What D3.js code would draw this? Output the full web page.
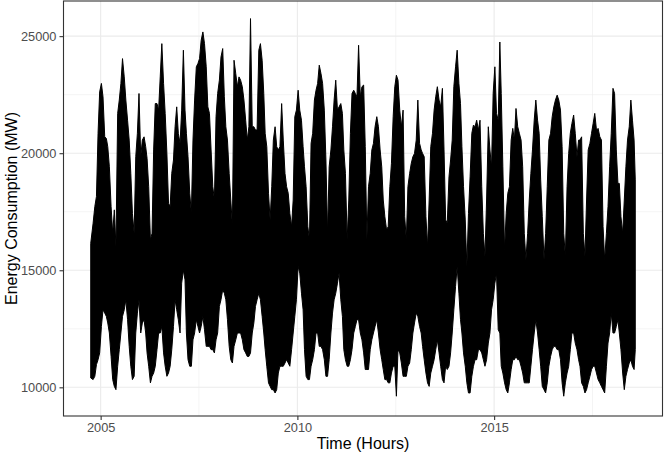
<!DOCTYPE html>
<html>
<meta charset="utf-8">
<head>
<script src="https://cdn.jsdelivr.net/npm/d3@7"></script>
<style>
body { margin: 0; background: #fff; }
text { font-family: "Liberation Sans", Arial, Helvetica, sans-serif; }
</style>
</head>
<body>
<script>
// hourly load, summarised as highest / lowest reading of each half month (MW)
// first value is the first half of Oct 2004, last is the first days of Aug 2018
var firstHour = new Date(2004, 9, 1);
var lastHour = new Date(2018, 7, 3);

var halfMonthHigh = [
  16150, 17010, 17720, 18150, 20850, 22620,   // 2004 Oct-Dec
  22980, 22410, 20700, 20630, 20280, 19420, 17720, 16580, 17580, 16010, 21700, 22270,
  22980, 24040, 23260, 22270, 21410, 20560, 19140, 17430, 16580, 19850, 20850, 22550,   // 2005
  19850, 20560, 20700, 20280, 19780, 18570, 16300, 16580, 20140, 22120, 22120, 21840,
  23260, 24680, 22980, 21700, 19990, 17860, 17720, 19140, 19710, 21130, 21980, 20850,   // 2006
  20420, 21840, 24400, 21840, 20850, 19850, 18290, 17430, 20560, 22270, 23690, 23830,
  24040, 24820, 25180, 24680, 23690, 21980, 21700, 20140, 18570, 18000, 21560, 22550,   // 2007
  23120, 24110, 24470, 22410, 21130, 20560, 19140, 18000, 16870, 23970, 23400, 22840,
  23260, 23120, 22840, 22270, 21410, 20560, 21130, 25750, 21130, 21130, 20990, 20990,   // 2008
  24400, 24680, 23970, 22550, 20850, 20280, 18290, 17150, 18570, 20560, 21130, 20280,
  20140, 20280, 22120, 20560, 19140, 18570, 18290, 17430, 16870, 18000, 21560, 21840,   // 2009
  22690, 21840, 21410, 20280, 19420, 18570, 16870, 16300, 20420, 20850, 22270, 22690,
  22980, 23760, 23400, 22980, 21840, 19710, 16580, 19420, 20140, 21130, 22270, 23120,   // 2010
  21840, 21980, 22120, 21700, 20140, 19140, 16300, 18000, 20850, 22550, 22690, 22550,
  22410, 24610, 22410, 22840, 22910, 20280, 16300, 18570, 19140, 20140, 20420, 21130,   // 2011
  21560, 21130, 20140, 19420, 18000, 17290, 16720, 16870, 18570, 19570, 21560, 22840,
  23330, 23120, 21840, 21130, 21840, 17290, 16300, 18570, 19140, 19570, 19850, 19990,   // 2012
  20560, 22270, 20420, 20140, 19990, 19850, 17290, 16010, 18000, 20280, 20850, 21840,
  22410, 22840, 22270, 21980, 22770, 20140, 17150, 17010, 18990, 19710, 20560, 22840,   // 2013
  23690, 24400, 22980, 22120, 20280, 18570, 17150, 15160, 17430, 18990, 20850, 21200,
  21130, 21410, 20990, 21410, 18570, 16580, 15590, 18000, 21130, 20140, 19420, 22550,   // 2014
  23690, 21700, 21410, 24750, 22550, 19420, 15870, 17430, 18290, 18570, 20560, 21060,
  20560, 21910, 21130, 20850, 20560, 19420, 16580, 15450, 16580, 18000, 19140, 20140,   // 2015
  21410, 22270, 21410, 20850, 18860, 17290, 15450, 16580, 18570, 20560, 20850, 21560,
  21980, 22270, 22480, 22270, 21840, 20280, 16580, 15590, 18570, 19990, 20850, 21270,   // 2016
  21630, 20850, 19850, 20560, 20560, 20700, 16580, 15590, 18000, 20140, 20420, 20850,
  21270, 21700, 20990, 21060, 20700, 20560, 16870, 15450, 16580, 17720, 19420, 20850,   // 2017
  22770, 22550, 20140, 18710, 18710, 17290, 16580, 18000, 19420, 20560, 21130, 22270,
  21410, 20560, 18860                                                                   // 2018
];

var halfMonthLow = [
  10400, 10330, 10470, 10970, 11180, 11470,
  12600, 13310, 13170, 13030, 12750, 12320, 11320, 10330, 10040, 9900, 10900, 11610,
  12320, 13030, 13310, 13740, 12890, 11750, 10900, 10330, 10470, 12320, 13170, 13740,
  12320, 12750, 12890, 12320, 11470, 10900, 10190, 10470, 10610, 10900, 11610, 12320,
  12320, 12600, 11470, 10900, 10470, 10610, 10900, 11610, 12600, 13740, 13310, 12890,
  12320, 14450, 15000, 14590, 12320, 11180, 10900, 10900, 12030, 12320, 12890, 12600,
  12320, 12600, 13030, 12460, 11750, 11750, 11750, 11610, 11610, 11470, 12030, 12320,
  13460, 13740, 14170, 14020, 13740, 12890, 11750, 11180, 11040, 11750, 12030, 12320,
  12320, 12320, 12030, 11610, 11470, 11320, 11320, 11470, 12320, 12750, 13460, 13740,
  14020, 13740, 13030, 12320, 11610, 10900, 10190, 10040, 9900, 9900, 9760, 9900,
  10610, 10900, 10900, 10900, 11040, 11180, 11040, 10900, 11610, 12320, 13030, 13740,
  15160, 14880, 14020, 13310, 11610, 10470, 10330, 10330, 10900, 11180, 11610, 12320,
  12320, 11750, 11750, 11610, 11180, 10470, 10470, 11180, 12320, 13170, 13740, 14020,
  14450, 14880, 13740, 13030, 11610, 11180, 10900, 10900, 11180, 11610, 12320, 12600,
  12890, 12890, 12320, 12030, 11470, 10760, 10760, 10760, 11610, 12030, 12320, 12600,
  12890, 12320, 11610, 11180, 10760, 10330, 10330, 10190, 10190, 10610, 10900, 10900,
  9620, 11610, 11470, 11040, 10470, 10470, 10470, 10900, 11040, 11610, 12320, 12750,
  13170, 13030, 12600, 12320, 11750, 11180, 10610, 10190, 10040, 10610, 10900, 11180,
  11610, 12030, 11470, 10900, 10330, 10190, 10900, 10760, 10900, 11470, 12320, 13310,
  14310, 15160, 14020, 12890, 12320, 11470, 10900, 10190, 9760, 9760, 10470, 10900,
  11180, 11180, 11610, 11610, 11470, 11180, 10900, 11180, 11890, 12320, 13310, 13740,
  14450, 14880, 12460, 12320, 10900, 10610, 10190, 9900, 9760, 10190, 10760, 11180,
  11180, 11320, 11180, 11180, 10900, 10610, 10190, 10190, 10190, 10190, 10900, 11610,
  12320, 12890, 12320, 11610, 10900, 10040, 9900, 9760, 10190, 10900, 11320, 11610,
  11750, 11750, 11610, 11610, 11180, 10190, 9620, 10190, 10610, 10900, 11610, 12320,
  12320, 11890, 11610, 11180, 10900, 10190, 10040, 9760, 9900, 10190, 10470, 10760,
  10900, 10900, 10610, 10330, 10190, 10040, 9900, 9760, 10900, 11890, 12320, 13170,
  12320, 12320, 12600, 12890, 12320, 11610, 10610, 9900, 10470, 10760, 11040, 11180,
  10900, 10760, 11610
];

var yTicks = [10000, 15000, 20000, 25000];
var yMinor = [12500, 17500, 22500];
var xTickYears = [2005, 2010, 2015];
var xMinorYears = [2007, 2012, 2017];

var W = 664, H = 453;
var panel = {left: 63.5, right: 662.5, top: 1, bottom: 416};

var svg = d3.select("body").append("svg")
  .attr("width", W)
  .attr("height", H);

// ggplot style 5% expansion on both axes
var span = lastHour - firstHour;
var x = d3.scaleTime()
  .domain([new Date(+firstHour - span * 0.05), new Date(+lastHour + span * 0.05)])
  .range([panel.left, panel.right]);

var y = d3.scaleLinear()
  .domain([8775, 26501])
  .range([panel.bottom, panel.top]);

var points = halfMonthHigh.map(function(v, i) {
  var d = d3.timeDay.offset(d3.timeMonth.offset(firstHour, Math.floor(i / 2)), i % 2 ? 22 : 7);
  if (i == 0) d = firstHour;
  if (d > lastHour) d = lastHour;
  return {date: d, hi: v, lo: halfMonthLow[i]};
});

// grid
var grid = svg.append("g");
function hline(sel, w) {
  sel.attr("x1", panel.left).attr("x2", panel.right)
    .attr("y1", function(d) { return y(d); }).attr("y2", function(d) { return y(d); })
    .attr("stroke", "#ebebeb").attr("stroke-width", w);
}
function vline(sel, w) {
  sel.attr("y1", panel.top).attr("y2", panel.bottom)
    .attr("x1", function(d) { return x(d); }).attr("x2", function(d) { return x(d); })
    .attr("stroke", "#ebebeb").attr("stroke-width", w);
}
grid.selectAll(".ym").data(yMinor).enter().append("line").call(hline, 0.55);
grid.selectAll(".xm").data(xMinorYears.map(function(d) { return new Date(d, 6, 2); }))
  .enter().append("line").call(vline, 0.55);
grid.selectAll(".yM").data(yTicks).enter().append("line").call(hline, 1.1);
grid.selectAll(".xM").data(xTickYears.map(function(d) { return new Date(d, 0, 1); }))
  .enter().append("line").call(vline, 1.1);

// the series
var band = d3.area()
  .x(function(d) { return x(d.date); })
  .y0(function(d) { return y(d.lo); })
  .y1(function(d) { return y(d.hi); });

svg.append("path")
  .datum(points)
  .attr("d", band)
  .attr("fill", "black")
  .attr("stroke", "black")
  .attr("stroke-width", 1)
  .attr("stroke-linejoin", "round");

// panel border
svg.append("rect")
  .attr("x", panel.left).attr("y", panel.top)
  .attr("width", panel.right - panel.left).attr("height", panel.bottom - panel.top)
  .attr("fill", "none").attr("stroke", "#333333").attr("stroke-width", 1.1);

// axes
var xAxis = d3.axisBottom(x)
  .tickValues(xTickYears.map(function(d) { return new Date(d, 0, 1); }))
  .tickFormat(d3.timeFormat("%Y"))
  .tickSize(4).tickPadding(3);
var gx = svg.append("g").attr("transform", "translate(0," + panel.bottom + ")").call(xAxis);

var yAxis = d3.axisLeft(y)
  .tickValues(yTicks)
  .tickFormat(d3.format("d"))
  .tickSize(4).tickPadding(3);
var gy = svg.append("g").attr("transform", "translate(" + panel.left + ",0)").call(yAxis);

[gx, gy].forEach(function(g) {
  g.select(".domain").remove();
  g.selectAll(".tick line").attr("stroke", "#333333").attr("stroke-width", 1.1);
  g.selectAll(".tick text")
    .attr("fill", "#4d4d4d")
    .style("font-size", "12.8px")
    .style("font-family", "'Liberation Sans', Arial, sans-serif");
});

svg.append("text")
  .attr("x", (panel.left + panel.right) / 2)
  .attr("y", 449)
  .attr("text-anchor", "middle")
  .style("font-size", "16px")
  .text("Time (Hours)");

svg.append("text")
  .attr("transform", "translate(17," + ((panel.top + panel.bottom) / 2) + ") rotate(-90)")
  .attr("text-anchor", "middle")
  .style("font-size", "16px")
  .text("Energy Consumption (MW)");
</script>
</body>
</html>
